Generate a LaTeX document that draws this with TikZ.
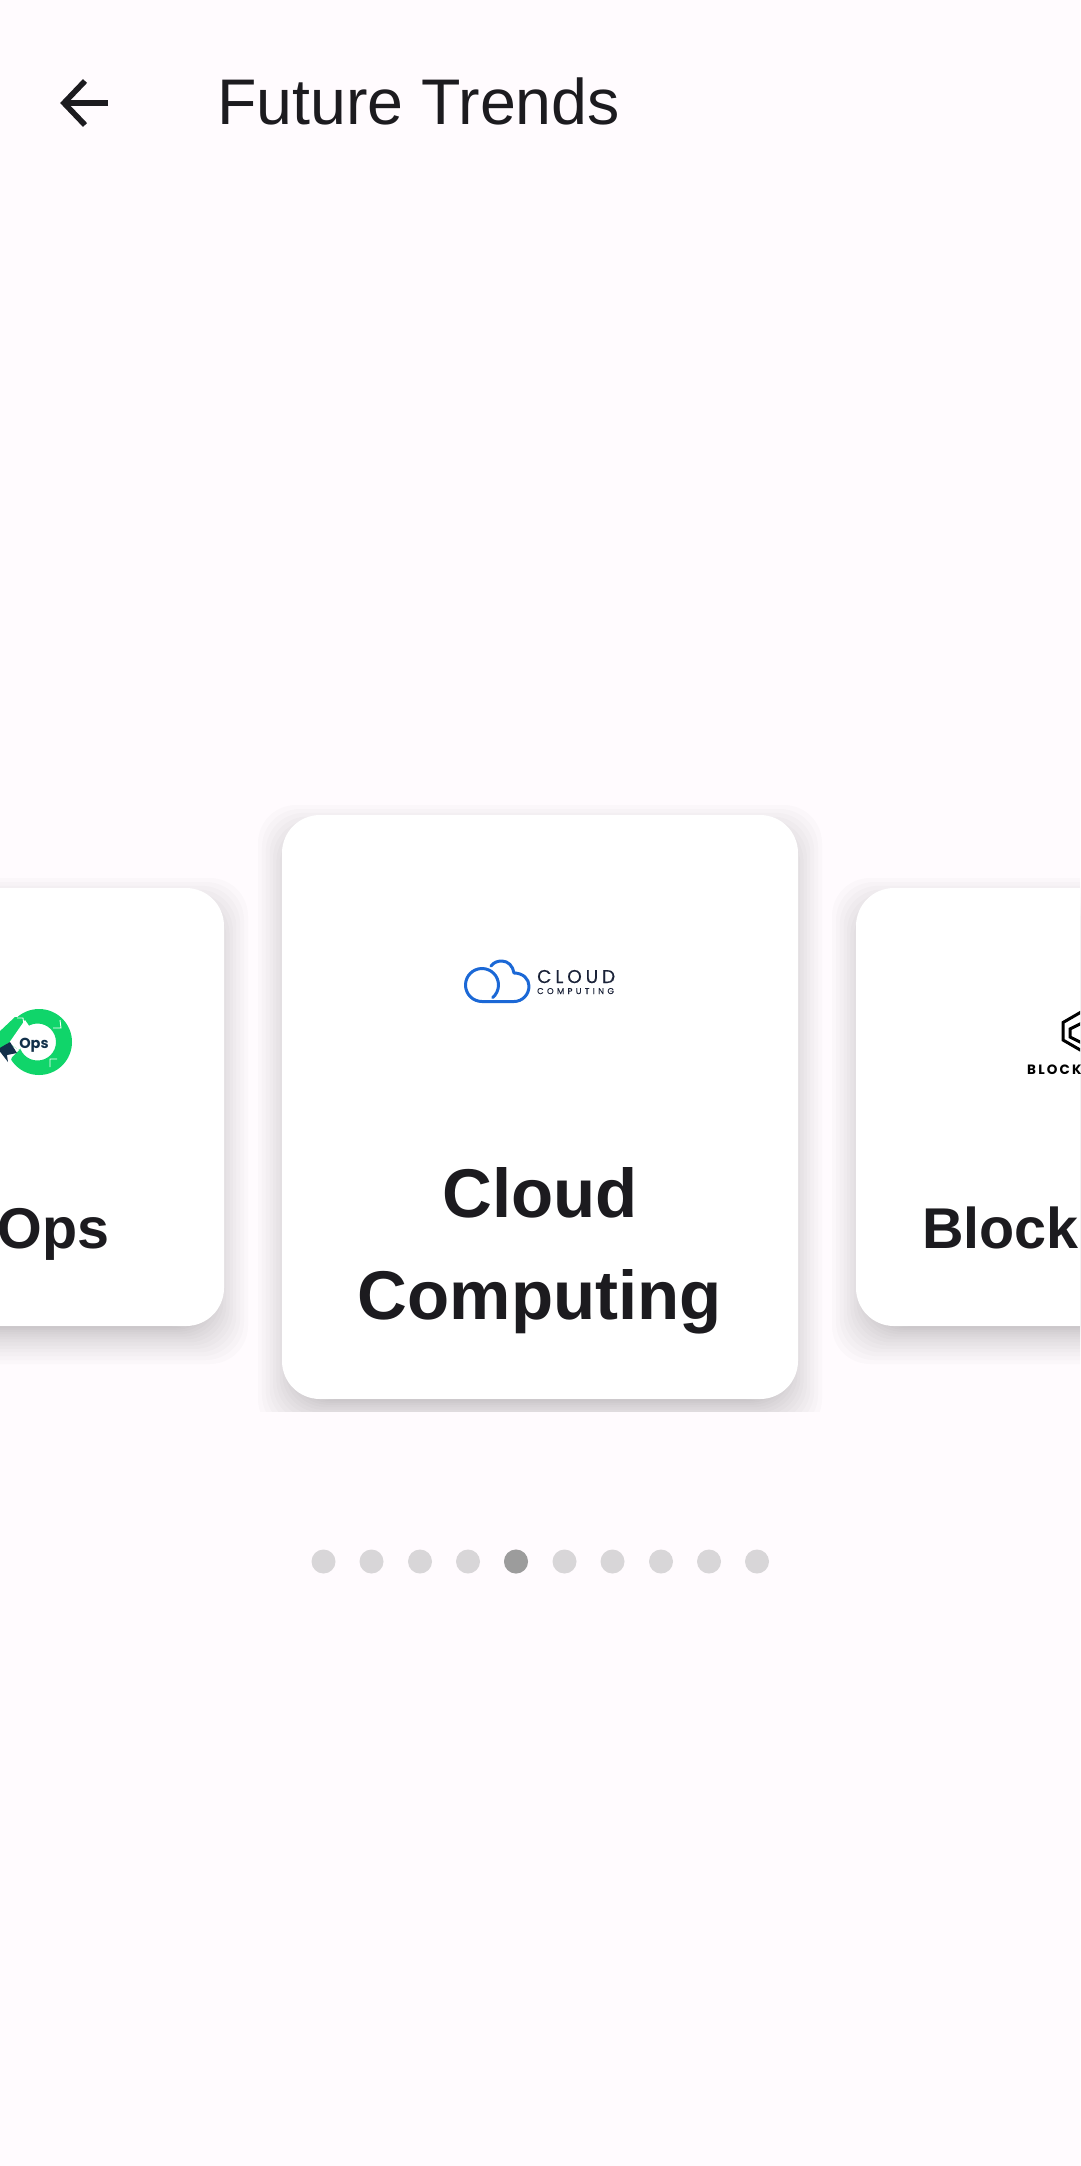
\documentclass[tikz,border=0pt]{standalone}
\usepackage{fontspec}
\setmainfont{Liberation Sans}
\newfontfamily\logofont{Poppins}
\newfontfamily\logotopfont[LetterSpace=21,FakeBold=0.35]{Poppins}
\newfontfamily\logobotfont[LetterSpace=40,FakeBold=0.25]{Poppins}
\newfontfamily\blockfont[LetterSpace=16]{Poppins}
\definecolor{pagebg}{HTML}{FFFBFE}
\definecolor{inkdark}{HTML}{1C1B1F}
\definecolor{dotgrey}{HTML}{D8D6D8}
\definecolor{dotactive}{HTML}{9C9C9C}
\definecolor{cloudblue}{HTML}{1B68D6}
\definecolor{opsgreen}{HTML}{10D56A}
\definecolor{opsnavy}{HTML}{12304A}
\definecolor{lognavy}{HTML}{1A2238}
\tikzset{
	card/.style={fill=white,rounded corners=38pt},
	pagedot/.style={circle,fill=dotgrey,minimum size=24pt,inner sep=0pt},
	title/.style={text=inkdark,inner sep=0pt,font=\fontsize{64.5}{64.5}\selectfont},
	cardtext/.style={text=inkdark,inner sep=0pt,font=\bfseries\fontsize{69}{69}\selectfont},
	sidetext/.style={text=inkdark,inner sep=0pt,font=\bfseries\fontsize{57.5}{57.5}\selectfont},
}
\newcommand{\cardshadow}[4]{% x1 y1 x2 y2
	\foreach \s in {0,...,14}{
		\pgfmathsetmacro{\grow}{38*(1-\s/14.01)^1.5-14}
		\fill[black,opacity=0.016,rounded corners=38pt]
		({#1-\grow},{#2+14-\grow}) rectangle ({#3+\grow},{#4+14+\grow});
	}
}
\begin{document}
\begin{tikzpicture}[x=1pt,y=-1pt,line cap=butt,line join=miter]
	\useasboundingbox (0,0) rectangle (1080,2166);
	\clip (0,0) rectangle (1080,2166);
	\fill[pagebg] (0,0) rectangle (1080,2166);
	% back arrow and title
	\coordinate (tip) at (64,103);
	\coordinate (tail) at (108,103);
	\draw[inkdark,line width=5.6pt] (tail)--(tip);
	\draw[inkdark,line width=5.6pt] (85,81)--(tip)--(85,125);
	\node[title,anchor=base west] (head) at (217,124) {Future Trends};
	% shadows of the three cards
	\cardshadow{-60}{888}{224}{1326}
	\cardshadow{856}{888}{1140}{1326}
	\begin{scope}
		\clip (250,780) rectangle (830,1411);
		\cardshadow{282}{815}{798}{1399}
	\end{scope}
	% the cards
	\path[card] (-60,888) rectangle (224,1326);
	\path[card] (856,888) rectangle (1140,1326);
	\path[card] (282,815) rectangle (798,1399);
	\node[cardtext,anchor=base] (cloud) at (540,1217) {Cloud};
	\node[cardtext,anchor=base] (computing) at (540,1319) {Computing};
	\node[sidetext,anchor=base east] (ops) at (110,1248) {Ops};
	\node[sidetext,anchor=base west] (block) at (922,1248) {Block};
	% cloud logo
	\draw[cloudblue,line width=3pt,line cap=round,line join=round]
	(482,1001.5) arc (90:410:16.5)
	(491,966) .. controls (494,962) and (498,961) .. (502,961)
	.. controls (508,961) and (513,966) .. (514,973)
	.. controls (523,973) and (529,979) .. (529,986)
	.. controls (529,995) and (522,1001.5) .. (514,1001.5)--(482,1001.5);
	\node[text=lognavy,inner sep=0pt,anchor=base west,font=\logotopfont\fontsize{18.5}{18.5}\selectfont] (logotop) at (537,983) {CLOUD};
	\node[text=lognavy,inner sep=0pt,anchor=base west,font=\logobotfont\fontsize{8.4}{8.4}\selectfont] (logobot) at (537,994) {COMPUTING};
	% ops logo
	\fill[opsgreen,even odd rule] (39,1042) circle (33) (37.5,1042) circle (18.5);
	\fill[white] (-2,1052)--(8,1043)--(19,1050)--(12,1057)--(8,1068)--(-2,1068)--cycle;
	\fill[white] (25,1020)--(9,1043)--(19,1050)--(32,1030)--cycle;
	\fill[opsgreen] (15,1017)--(24,1017)--(8,1043)--(-2,1052)--(-2,1033)--cycle;
	\draw[white,line width=0.9pt] (17,1018)--(23,1018)--(24,1025) (53,1028)--(61,1028)--(60,1020) (50,1067)--(50,1059)--(57,1059);
	\fill[opsnavy] (-2,1049)--(10,1042)--(17,1053)--(7,1055)--(8,1062)--cycle;
	\node[text=opsnavy,inner sep=0pt,anchor=base,font=\logofont\bfseries\fontsize{14.5}{14.5}\selectfont] (opslogo) at (34,1048) {Ops};
	% block logo
	\draw[black,line width=3pt]
	(1082,1011.5)--(1063,1022.5)--(1063,1040)--(1082,1051)
	(1082,1023)--(1070,1029)--(1070,1037)--(1082,1043);
	\node[text=black,inner sep=0pt,anchor=base west,font=\blockfont\bfseries\fontsize{13.5}{13.5}\selectfont] (blocklogo) at (1027,1074) {BLOCK};
	% page dots
	\foreach \name/\posx in {dota/323.5,dotb/371.5,dotc/420,dotd/468,dote/516,dotf/564.5,dotg/612.5,doth/661,doti/709,dotj/757}{
		\node[pagedot] (\name) at (\posx,1561.5) {};
	}
	\node[pagedot,fill=dotactive] (current) at (dote) {};
\end{tikzpicture}
\end{document}
